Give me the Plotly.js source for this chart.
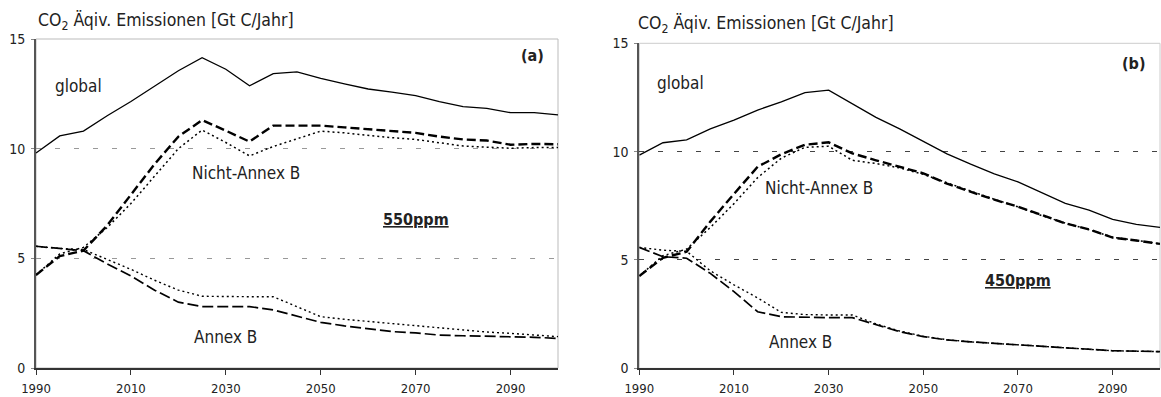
<!DOCTYPE html>
<html>
<head>
<meta charset="utf-8">
<script src="https://cdn.plot.ly/plotly-3.0.1.min.js"></script>
<style>html,body{margin:0;padding:0;background:#fff;}#chart{width:1161px;height:397px;}</style>
</head>
<body>
<div id="chart"></div>
<script>
const years = [1990,1995,2000,2005,2010,2015,2020,2025,2030,2035,2040,2045,2050,2055,2060,2065,2070,2075,2080,2085,2090,2095,2100];
const xTicks = [1990,2010,2030,2050,2070,2090];
const yTicks = [0,5,10,15];

// Panel (a) 550ppm
const a_global      = [9.8,10.58,10.8,11.5,12.15,12.85,13.55,14.15,13.62,12.87,13.42,13.5,13.2,12.95,12.72,12.58,12.42,12.14,11.92,11.84,11.64,11.64,11.54];
const a_nonAnnexDash= [4.24,5.1,5.35,6.5,7.9,9.3,10.55,11.3,10.82,10.32,11.05,11.05,11.05,10.97,10.88,10.82,10.72,10.55,10.42,10.37,10.18,10.22,10.2];
const a_nonAnnexDot = [4.24,5.2,5.5,6.4,7.5,8.75,10.0,10.85,10.28,9.67,10.1,10.45,10.8,10.72,10.6,10.5,10.42,10.27,10.12,10.07,10.02,10.05,10.05];
const a_annexDash   = [5.55,5.45,5.35,4.75,4.2,3.55,3.0,2.8,2.8,2.8,2.65,2.38,2.08,1.92,1.78,1.66,1.6,1.5,1.47,1.45,1.43,1.4,1.35];
const a_annexDot    = [5.55,5.45,5.4,4.95,4.5,4.0,3.55,3.27,3.25,3.25,3.25,2.8,2.34,2.22,2.12,2.02,1.94,1.83,1.72,1.64,1.58,1.52,1.43];

// Panel (b) 450ppm
const b_global      = [9.84,10.41,10.54,11.05,11.45,11.92,12.3,12.72,12.84,12.2,11.58,11.05,10.46,9.9,9.42,8.97,8.6,8.1,7.61,7.3,6.87,6.64,6.5];
const b_nonAnnexDash= [4.26,5.1,5.38,6.77,8.05,9.3,9.88,10.32,10.43,9.92,9.6,9.3,9.0,8.52,8.15,7.78,7.46,7.07,6.69,6.41,6.03,5.9,5.74];
const b_nonAnnexDot = [4.26,5.2,5.5,6.5,7.6,8.8,9.7,10.2,10.25,9.6,9.45,9.25,8.95,8.55,8.18,7.8,7.45,7.05,6.7,6.4,6.05,5.9,5.75];
const b_annexDash   = [5.58,5.15,5.08,4.38,3.54,2.61,2.38,2.35,2.34,2.34,2.0,1.69,1.46,1.31,1.22,1.15,1.08,1.03,0.93,0.88,0.81,0.79,0.77];
const b_annexDot    = [5.58,5.45,5.4,4.5,3.85,3.25,2.58,2.48,2.46,2.46,2.05,1.72,1.48,1.32,1.22,1.15,1.08,1.03,0.93,0.88,0.81,0.79,0.77];

const FONT = '"DejaVu Sans Condensed", "DejaVu Sans", sans-serif';
const TXT = '#222';

const styles = {
  global: {color:'#000', width:1.3, dash:'solid'},
  nonDash: {color:'#000', width:2.4, dash:'9px,4px'},
  nonDot: {color:'#000', width:1.5, dash:'2px,3px'},
  annDash: {color:'#000', width:1.7, dash:'11px,4px'},
  annDot: {color:'#000', width:1.4, dash:'2px,3px'}
};
function tr(y, st, xa, ya){
  return {x: years, y: y, type:'scatter', mode:'lines', line: Object.assign({shape:'linear'}, st), xaxis: xa, yaxis: ya, hoverinfo:'skip', showlegend:false};
}
const data = [
  tr(a_global, styles.global, 'x','y'),
  tr(a_nonAnnexDot, styles.nonDot, 'x','y'),
  tr(a_nonAnnexDash, styles.nonDash, 'x','y'),
  tr(a_annexDot, styles.annDot, 'x','y'),
  tr(a_annexDash, styles.annDash, 'x','y'),
  tr(b_global, styles.global, 'x2','y2'),
  tr(b_nonAnnexDot, styles.nonDot, 'x2','y2'),
  tr(b_nonAnnexDash, styles.nonDash, 'x2','y2'),
  tr(b_annexDot, styles.annDot, 'x2','y2'),
  tr(b_annexDash, styles.annDash, 'x2','y2')
];

function xAxis(domain, anchor){
  return {domain: domain, anchor: anchor, range:[1990,2100], tickvals: xTicks, ticktext: xTicks.map(String),
    showgrid:false, zeroline:false, showline:true, linecolor:'#333', linewidth:1.5,
    ticks:'outside', ticklen:5, tickcolor:'#333', tickwidth:1, ticklabelstandoff:3,
    tickfont:{family:FONT, size:13, color:TXT}, fixedrange:true};
}
function yAxis(domain, anchor, gcolor){
  return {domain: domain, anchor: anchor, range:[0,15], tickvals: yTicks, ticktext: yTicks.map(String),
    showgrid:true, gridcolor:gcolor, griddash:'5px,14px', gridwidth:1, zeroline:false,
    showline:true, linecolor:'#555', linewidth:2,
    ticks:'outside', ticklen:3, tickcolor:'#888', ticklabelstandoff:3,
    tickfont:{family:FONT, size:14, color:TXT}, fixedrange:true};
}
// overlay axes for the inner half of the x tick marks
function xInner(overlay, anchor, domain){
  return {overlaying: overlay, anchor: anchor, domain: domain, range:[1990,2100], tickvals: xTicks, showticklabels:false,
    showgrid:false, zeroline:false, showline:false, ticks:'inside', ticklen:5, tickcolor:'#333', tickwidth:1, fixedrange:true};
}

const dA = [36/1161, 558/1161];
const dB = [639.3/1161, 1160/1161];
const yA = [1-368/397, 1-39/397];
const yB = [1-368.3/397, 1-43.3/397];

function ann(text, x, y, xr, yr, size, extra){
  return Object.assign({text: text, x: x, y: y, xref: xr, yref: yr, showarrow:false,
    font:{family:FONT, size:size, color:TXT}, xanchor:'center', yanchor:'middle'}, extra||{});
}

const layout = {
  width:1161, height:397, margin:{l:0,r:0,t:0,b:0},
  paper_bgcolor:'#fff', plot_bgcolor:'#fff', showlegend:false,
  xaxis: xAxis(dA,'y'), yaxis: yAxis(yA,'x','#999'),
  xaxis2: xAxis(dB,'y2'), yaxis2: yAxis(yB,'x2','#444'),
  xaxis3: xInner('x','y', dA), xaxis4: xInner('x2','y2', dB),
  shapes: [
    {type:'rect', xref:'x domain', yref:'y domain', x0:0, x1:1, y0:0, y1:1, line:{color:'#bbb', width:1}, layer:'below'},
    {type:'rect', xref:'x2 domain', yref:'y2 domain', x0:0, x1:1, y0:0, y1:1, line:{color:'#ccc', width:1}, layer:'below'}
  ],
  annotations: [
    ann('CO<sub>2</sub> Äqiv. Emissionen [Gt C/Jahr]', 36/1161, 1-22/397, 'paper','paper', 17.5, {xanchor:'left'}),
    ann('CO<sub>2</sub> Äqiv. Emissionen [Gt C/Jahr]', 636/1161, 1-24/397, 'paper','paper', 17.5, {xanchor:'left'}),
    ann('global', 1998.9, 12.86, 'x','y', 17),
    ann('Nicht-Annex B', 2034.3, 8.89, 'x','y', 17),
    ann('<b><u>550ppm</u></b>', 2070.1, 6.79, 'x','y', 16),
    ann('Annex B', 2029.9, 1.41, 'x','y', 17),
    ann('<b>(a)</b>', 2094.7, 14.27, 'x','y', 16),
    ann('global', 1998.8, 13.17, 'x2','y2', 17),
    ann('Nicht-Annex B', 2028.0, 8.32, 'x2','y2', 17),
    ann('<b><u>450ppm</u></b>', 2070.1, 4.07, 'x2','y2', 16),
    ann('Annex B', 2024.0, 1.21, 'x2','y2', 17),
    ann('<b>(b)</b>', 2094.4, 14.09, 'x2','y2', 16)
  ]
};
Plotly.newPlot('chart', data, layout, {staticPlot:true, displayModeBar:false});
</script>
</body>
</html>
